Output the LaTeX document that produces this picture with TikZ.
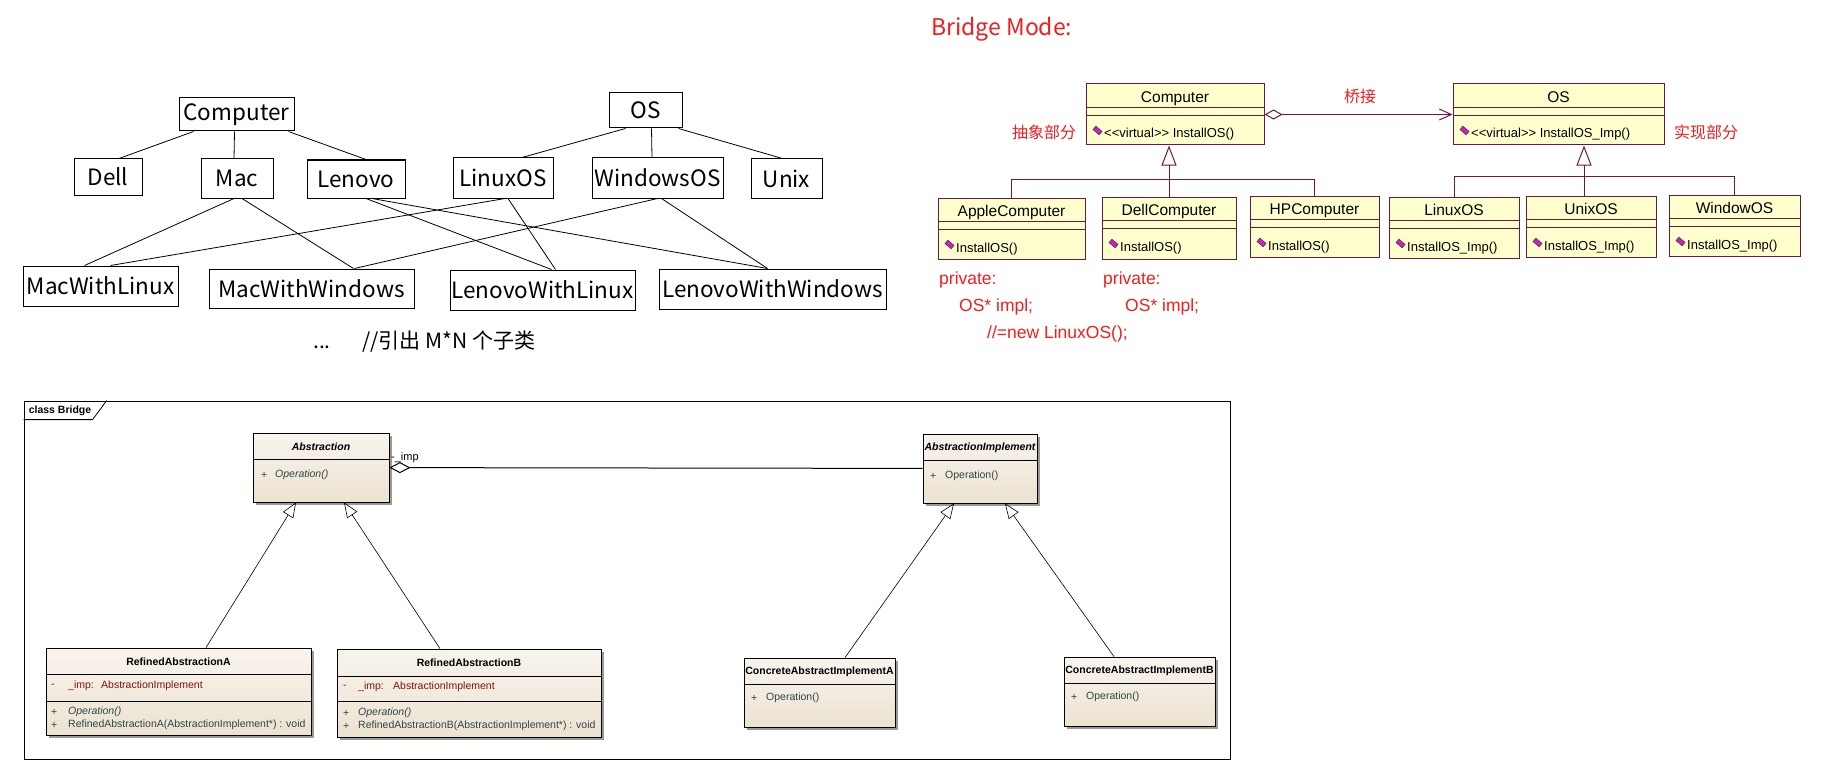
\documentclass[tikz,border=0pt]{standalone}
\usepackage{fontspec}
\setmainfont{Liberation Sans}
\newfontfamily\cjkfont{Noto Sans CJK SC}
\usetikzlibrary{arrows.meta, shadows}
\definecolor{rosedge}{RGB}{110,25,60}
\definecolor{rosefill}{RGB}{255,255,206}
\definecolor{roseicon}{RGB}{190,40,190}
\definecolor{notered}{RGB}{240,30,30}
\definecolor{eatop}{RGB}{248,244,237}
\definecolor{eabot}{RGB}{236,226,208}
\definecolor{eaattr}{RGB}{128,20,20}
\definecolor{eaop}{RGB}{45,70,70}

\begin{document}
\begin{tikzpicture}[x=1pt, y=-1pt,
	plain/.style={draw, line width=1pt, inner sep=0pt, font=\cjkfont\fontsize{22.5}{26}\selectfont},
	link/.style={line width=0.8pt},
	rosebox/.style={draw=rosedge, fill=rosefill, line width=1pt, inner sep=0pt},
	roseedge/.style={draw=rosedge, line width=1pt},
	roseinh/.style={roseedge, -{Triangle[open, length=20pt, width=15pt]}},
	rosename/.style={font=\fontsize{15.5}{18}\selectfont, inner sep=0pt, anchor=base},
	roseop/.style={font=\fontsize{13}{15}\selectfont, inner sep=0pt, anchor=base west},
	roseicon/.style={draw=rosedge, fill=roseicon, line width=0.5pt, minimum width=8pt, minimum height=4.5pt, inner sep=0pt, rotate=-40},
	note/.style={text=notered, font=\fontsize{17.5}{20}\selectfont, inner sep=0pt, anchor=base west},
	cnote/.style={text=notered, font=\cjkfont\fontsize{16}{18}\selectfont, inner sep=0pt},
	eabox/.style={draw, line width=0.8pt, inner sep=0pt, top color=eatop, bottom color=eabot,
		drop shadow={shadow xshift=3pt, shadow yshift=-3pt, fill=black!40, opacity=1}},
	eaname/.style={font=\fontsize{10.5}{12}\selectfont\bfseries, inner sep=0pt},
	eatxt/.style={font=\fontsize{10.5}{12}\selectfont, inner sep=0pt, anchor=west, text=eaop},
	eaatt/.style={eatxt, text=eaattr},
	eainh/.style={line width=0.6pt, -{Triangle[open, length=15pt, width=12pt]}}
	]
	\path[use as bounding box, fill=white] (0,0) rectangle (1823,765);

	% Upper left: one subclass per pair
	\node[plain, minimum width=115pt, minimum height=33pt] (cmp) at (236.5,114.5) {Computer};
	\node[plain, minimum width=73pt, minimum height=35pt] (os) at (645.5,110.5) {OS};
	\node[plain, minimum width=68pt, minimum height=36pt] (dell) at (108,177) {Dell};
	\node[plain, minimum width=72pt, minimum height=39pt] (mac) at (237,178.5) {Mac};
	\node[plain, minimum width=98pt, minimum height=38pt] (len) at (356,179) {Lenovo};
	\node[plain, minimum width=100pt, minimum height=40pt] (linux) at (503,178) {LinuxOS};
	\node[plain, minimum width=131pt, minimum height=40pt] (win) at (657.5,178) {WindowsOS};
	\node[plain, minimum width=71pt, minimum height=39pt] (unix) at (786.5,178.5) {Unix};
	\node[plain, minimum width=155pt, minimum height=40pt] (mwl) at (100.5,286) {MacWithLinux};
	\node[plain, minimum width=205pt, minimum height=39pt] (mww) at (311.5,288.5) {MacWithWindows};
	\node[plain, minimum width=185pt, minimum height=40pt] (lwl) at (542.5,290) {LenovoWithLinux};
	\node[plain, minimum width=227pt, minimum height=40pt] (lww) at (772.5,289) {LenovoWithWindows};

	\draw[link] ([xshift=-43pt]cmp.south) -- ([xshift=11pt]dell.north);
	\draw[link] ([xshift=-2pt]cmp.south) -- ([xshift=-3pt]mac.north);
	\draw[link] ([xshift=52pt]cmp.south) -- ([xshift=10pt]len.north);
	\draw[link] ([xshift=-20pt]os.south) -- ([xshift=19pt]linux.north);
	\draw[link] ([xshift=6pt]os.south) -- ([xshift=-5.5pt]win.north);
	\draw[link] ([xshift=33pt]os.south) -- ([xshift=-4pt]unix.north);

	\draw[link] ([xshift=-3pt]mac.south) -- ([xshift=-16pt]mwl.north);
	\draw[link] ([xshift=5pt]mac.south) -- ([xshift=42pt]mww.north);
	\draw[link] ([xshift=10pt]len.south) -- ([xshift=9pt]lwl.north);
	\draw[link] ([xshift=16pt]len.south) -- ([xshift=-5pt]lww.north);
	\draw[link] ([xshift=2pt]linux.south) -- ([xshift=10pt]mwl.north);
	\draw[link] ([xshift=5pt]linux.south) -- ([xshift=13pt]lwl.north);
	\draw[link] (win.south) -- ([xshift=43pt]mww.north);
	\draw[link] ([xshift=4pt]win.south) -- ([xshift=-5pt]lww.north);

	\node[font=\cjkfont\fontsize{21}{24}\selectfont, inner sep=0pt, anchor=base] (dots) at (322,348) {...};
	\node[font=\cjkfont\fontsize{21}{24}\selectfont, inner sep=0pt, anchor=base west] (mxn) at (362,348) {//引出 M*N 个子类};

	% Upper right: bridge in Rose notation
	\node[text=notered, font=\cjkfont\fontsize{23}{26}\selectfont, inner sep=0pt, anchor=base west] (mode) at (931,36) {Bridge Mode:};

	\node[rosebox, minimum width=178pt, minimum height=61pt] (rcmp) at (1175,114.5) {};
	\node[rosebox, minimum width=211pt, minimum height=61pt] (ros) at (1558.5,114.5) {};
	\node[rosebox, minimum width=147pt, minimum height=61pt] (rapl) at (1011.5,228.5) {};
	\node[rosebox, minimum width=134pt, minimum height=62pt] (rdel) at (1169,228) {};
	\node[rosebox, minimum width=129pt, minimum height=61pt] (rhp) at (1314.5,226.5) {};
	\node[rosebox, minimum width=130pt, minimum height=61pt] (rlin) at (1454,227.5) {};
	\node[rosebox, minimum width=130pt, minimum height=61pt] (runx) at (1591,226.5) {};
	\node[rosebox, minimum width=131pt, minimum height=61pt] (rwin) at (1734.5,225.5) {};

	\foreach \b/\nm/\opname in {rcmp/Computer/{<{}<virtual>{}> InstallOS()}, ros/OS/{<{}<virtual>{}> InstallOS\_Imp()},
		rapl/AppleComputer/InstallOS(), rdel/DellComputer/InstallOS(), rhp/HPComputer/InstallOS(),
		rlin/LinuxOS/InstallOS\_Imp(), runx/UnixOS/InstallOS\_Imp(), rwin/WindowOS/InstallOS\_Imp()}{
		\draw[roseedge] ([yshift=-24pt]\b.north west) -- ([yshift=-24pt]\b.north east);
		\draw[roseedge] ([yshift=-32pt]\b.north west) -- ([yshift=-32pt]\b.north east);
		\node[rosename] (\b-name) at ([yshift=-19pt]\b.north) {\nm};
		\node[roseicon] (\b-icon) at ([xshift=12pt, yshift=-47pt]\b.north west) {};
		\node[roseop] (\b-op) at ([xshift=18.5pt, yshift=-54.5pt]\b.north west) {\opname};
	}

	\draw[roseedge, {Diamond[open, length=18pt, width=10pt]}-{Straight Barb[length=12pt, width=11pt]}] (rcmp) -- (ros);
	\draw[roseinh] (rdel.north) -- (rdel.north |- rcmp.south);
	\draw[roseedge] (rapl.north) -- ++(0,-18) -| (rhp.north);
	\draw[roseinh] ([xshift=-7pt]runx.north) -- ([xshift=-7pt]runx.north |- ros.south);
	\draw[roseedge] (rlin.north) -- ++(0,-20) -| (rwin.north);

	\node[cnote] (bridge) at (1360,96) {桥接};
	\node[cnote] (abspart) at (1044,132) {抽象部分};
	\node[cnote] (imppart) at (1706,132) {实现部分};

	\node[note] (priv1) at (939,284) {private:};
	\node[note] (impl1) at (959,311) {OS* impl;};
	\node[note] (new1) at (987,338) {//=new LinuxOS();};
	\node[note] (priv2) at (1103,284) {private:};
	\node[note] (impl2) at (1125,311) {OS* impl;};

	% Lower part: class Bridge
	\node[draw, line width=0.8pt, minimum width=1206pt, minimum height=358pt, inner sep=0pt] (frame) at (627,580) {};
	\draw[line width=0.8pt] ([yshift=-19pt]frame.north west) -- ++(69,0) -- ([xshift=83pt]frame.north west);
	\node[font=\fontsize{10.5}{13}\selectfont\bfseries, inner sep=0pt, anchor=west] (tab) at ([xshift=5pt, yshift=-10pt]frame.north west) {class Bridge};

	\node[eabox, minimum width=136pt, minimum height=69pt] (abs) at (321,467.5) {};
	\node[eabox, minimum width=114pt, minimum height=69pt] (aimp) at (980,468.5) {};
	\node[eabox, minimum width=265pt, minimum height=87pt] (refa) at (178.5,691.5) {};
	\node[eabox, minimum width=264pt, minimum height=88pt] (refb) at (469,693) {};
	\node[eabox, minimum width=151pt, minimum height=69pt] (cimpa) at (819.5,692.5) {};
	\node[eabox, minimum width=151pt, minimum height=69pt] (cimpb) at (1139.5,691.5) {};

	\foreach \b/\dy in {abs/27, aimp/27, refa/27, refa/54, refb/28, refb/53, cimpa/27, cimpb/27}
		\draw[line width=0.6pt] ([yshift=-\dy pt]\b.north west) -- ([yshift=-\dy pt]\b.north east);

	\node[eaname, font=\fontsize{10.5}{12}\selectfont\bfseries\itshape] (abs-name) at ([yshift=-14.5pt]abs.north) {Abstraction};
	\node[eaname, font=\fontsize{10.5}{12}\selectfont\bfseries\itshape] (aimp-name) at ([yshift=-14.5pt]aimp.north) {AbstractionImplement};
	\node[eaname] (refa-name) at ([yshift=-14.5pt]refa.north) {RefinedAbstractionA};
	\node[eaname] (refb-name) at ([yshift=-14.5pt]refb.north) {RefinedAbstractionB};
	\node[eaname] (cimpa-name) at ([yshift=-14.5pt]cimpa.north) {ConcreteAbstractImplementA};
	\node[eaname] (cimpb-name) at ([yshift=-14.5pt]cimpb.north) {ConcreteAbstractImplementB};

	\node[eatxt] (abs-s) at (261,475) {+};
	\node[eatxt, font=\fontsize{10.5}{12}\selectfont\itshape] (abs-op) at (275,475) {Operation()};
	\node[eatxt] (aimp-s) at (930,476) {+};
	\node[eatxt] (aimp-op) at (945,476) {Operation()};

	\node[eaatt] (refa-s1) at (51,686) {-};
	\node[eaatt] (refa-at) at (68,686) {\_imp:};
	\node[eaatt] (refa-ty) at (101,686) {AbstractionImplement};
	\node[eatxt] (refa-s2) at (51,712) {+};
	\node[eatxt, font=\fontsize{10.5}{12}\selectfont\itshape] (refa-op) at (68,712) {Operation()};
	\node[eatxt] (refa-s3) at (51,725) {+};
	\node[eatxt] (refa-ct) at (68,725) {RefinedAbstractionA(AbstractionImplement*) : void};

	\node[eaatt] (refb-s1) at (343,687) {-};
	\node[eaatt] (refb-at) at (358,687) {\_imp:};
	\node[eaatt] (refb-ty) at (393,687) {AbstractionImplement};
	\node[eatxt] (refb-s2) at (343,713) {+};
	\node[eatxt, font=\fontsize{10.5}{12}\selectfont\itshape] (refb-op) at (358,713) {Operation()};
	\node[eatxt] (refb-s3) at (343,726) {+};
	\node[eatxt] (refb-ct) at (358,726) {RefinedAbstractionB(AbstractionImplement*) : void};

	\node[eatxt] (cimpa-s) at (751,698) {+};
	\node[eatxt] (cimpa-op) at (766,698) {Operation()};
	\node[eatxt] (cimpb-s) at (1071,697) {+};
	\node[eatxt] (cimpb-op) at (1086,697) {Operation()};

	\draw[line width=1pt, {Diamond[open, length=21pt, width=11pt]}-] (abs) -- (aimp);
	\node[font=\fontsize{11}{13}\selectfont, inner sep=0pt, anchor=south west] (imp) at (391,463) {-\_imp};

	\draw[eainh] ([xshift=27.5pt]refa.north) -- ([xshift=-25pt]abs.south);
	\draw[eainh] ([xshift=-29pt]refb.north) -- ([xshift=23pt]abs.south);
	\draw[eainh] ([xshift=25.5pt]cimpa.north) -- ([xshift=-26pt]aimp.south);
	\draw[eainh] ([xshift=-25.5pt]cimpb.north) -- ([xshift=25pt]aimp.south);
\end{tikzpicture}
\end{document}
